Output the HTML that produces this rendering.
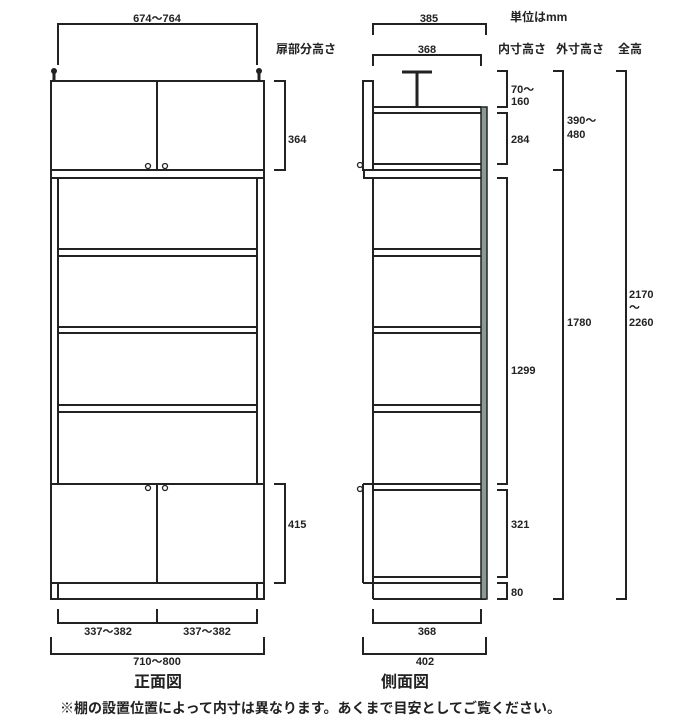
<!DOCTYPE html>
<html><head><meta charset="utf-8"><style>
html,body{margin:0;padding:0;background:#fff;}
svg{display:block;}
text{font-family:"Liberation Sans","Noto Sans CJK JP",sans-serif;font-weight:bold;fill:#222;}
</style></head><body>
<svg width="700" height="726" viewBox="0 0 700 726" xmlns="http://www.w3.org/2000/svg">
<g fill="none" stroke="#222" stroke-width="2">
<!-- FRONT VIEW -->
<polyline points="58,65 58,24 257,24 257,65"/>
<line x1="54" y1="72" x2="54" y2="81" stroke-width="3"/>
<line x1="259" y1="72" x2="259" y2="81" stroke-width="3"/>
<rect x="51" y="81" width="213" height="89"/>
<line x1="157" y1="81" x2="157" y2="170"/>
<rect x="51" y="170" width="213" height="8"/>
<rect x="51" y="178" width="7" height="306"/>
<rect x="257" y="178" width="7" height="306"/>
<line x1="58" y1="249" x2="257" y2="249"/><line x1="58" y1="256" x2="257" y2="256"/>
<line x1="58" y1="327" x2="257" y2="327"/><line x1="58" y1="333" x2="257" y2="333"/>
<line x1="58" y1="405" x2="257" y2="405"/><line x1="58" y1="412" x2="257" y2="412"/>
<rect x="51" y="484" width="213" height="99"/>
<line x1="157" y1="484" x2="157" y2="583"/>
<rect x="51" y="583" width="213" height="16"/>
<line x1="58" y1="583" x2="58" y2="599"/><line x1="257" y1="583" x2="257" y2="599"/>
<circle cx="148" cy="166" r="2.5" stroke-width="1.3"/><circle cx="165" cy="166" r="2.5" stroke-width="1.3"/>
<circle cx="148" cy="488" r="2.5" stroke-width="1.3"/><circle cx="165" cy="488" r="2.5" stroke-width="1.3"/>
<polyline points="274,81 285,81 285,170 274,170"/>
<polyline points="274,484 285,484 285,583 274,583"/>
<polyline points="58,609 58,623 257,623 257,609"/>
<line x1="157" y1="609" x2="157" y2="623"/>
<polyline points="51,637 51,654 264,654 264,637"/>

<!-- SIDE VIEW -->
<polyline points="373,35 373,24 486,24 486,35"/>
<polyline points="373,66 373,55 481,55 481,66"/>
<line x1="402" y1="72" x2="432" y2="72" stroke-width="3"/>
<line x1="417" y1="72" x2="417" y2="107" stroke-width="3"/>
<rect x="363" y="81" width="10" height="89"/>
<line x1="373" y1="107" x2="481" y2="107"/><line x1="373" y1="113" x2="481" y2="113"/>
<line x1="373" y1="107" x2="373" y2="170"/>
<line x1="373" y1="164" x2="481" y2="164"/>
<rect x="364" y="170" width="122" height="8"/>
<line x1="373" y1="178" x2="373" y2="599"/>
<line x1="373" y1="249" x2="481" y2="249"/><line x1="373" y1="256" x2="481" y2="256"/>
<line x1="373" y1="327" x2="481" y2="327"/><line x1="373" y1="333" x2="481" y2="333"/>
<line x1="373" y1="405" x2="481" y2="405"/><line x1="373" y1="412" x2="481" y2="412"/>
<line x1="363" y1="484" x2="481" y2="484"/><line x1="373" y1="490" x2="481" y2="490"/>
<line x1="363" y1="484" x2="363" y2="583"/>
<line x1="363" y1="583" x2="481" y2="583"/><line x1="373" y1="577" x2="481" y2="577"/>
<line x1="373" y1="599" x2="486" y2="599"/>
<circle cx="360" cy="165" r="2.5" stroke-width="1.3"/>
<circle cx="360" cy="489" r="2.5" stroke-width="1.3"/>
<polyline points="497,71 507,71 507,107 497,107"/>
<polyline points="497,113 507,113 507,164 497,164"/>
<polyline points="497,178 507,178 507,484 497,484"/>
<polyline points="497,490 507,490 507,577 497,577"/>
<polyline points="497,583 507,583 507,599 497,599"/>
<polyline points="553,71 563,71 563,170 553,170"/>
<polyline points="553,170 563,170 563,599 553,599"/>
<polyline points="616,71 626,71 626,599 616,599"/>
<polyline points="373,609 373,623 481,623 481,609"/>
<polyline points="363,637 363,654 486,654 486,637"/>
</g>
<rect x="481" y="107" width="6" height="492" fill="#8a9a94" stroke="#222" stroke-width="1.5"/>
<circle cx="54" cy="71" r="3" fill="#222"/><circle cx="259" cy="71" r="3" fill="#222"/>

<g font-size="11">
<text x="157" y="22" text-anchor="middle">674～764</text>
<text x="276" y="53" font-size="12">扉部分高さ</text>
<text x="288" y="143">364</text>
<text x="288" y="528">415</text>
<text x="108" y="635" text-anchor="middle">337～382</text>
<text x="207" y="635" text-anchor="middle">337～382</text>
<text x="157" y="665" text-anchor="middle">710～800</text>
<text x="429" y="22" text-anchor="middle">385</text>
<text x="427" y="53" text-anchor="middle">368</text>
<text x="510" y="21" font-size="12">単位はmm</text>
<text x="498" y="53" font-size="12">内寸高さ</text>
<text x="556" y="53" font-size="12">外寸高さ</text>
<text x="618" y="53" font-size="12">全高</text>
<text x="511" y="93">70～</text>
<text x="511" y="105">160</text>
<text x="511" y="143">284</text>
<text x="567" y="124">390～</text>
<text x="567" y="138">480</text>
<text x="511" y="374">1299</text>
<text x="567" y="326">1780</text>
<text x="629" y="298">2170</text>
<text x="629" y="311">～</text>
<text x="629" y="326">2260</text>
<text x="511" y="528">321</text>
<text x="511" y="596">80</text>
<text x="427" y="635" text-anchor="middle">368</text>
<text x="425" y="665" text-anchor="middle">402</text>
</g>
<text x="158" y="687" font-size="16" text-anchor="middle">正面図</text>
<text x="405" y="687" font-size="16" text-anchor="middle">側面図</text>
<text x="60" y="713" font-size="14">※棚の設置位置によって内寸は異なります。あくまで目安としてご覧ください。</text>
</svg>
</body></html>
